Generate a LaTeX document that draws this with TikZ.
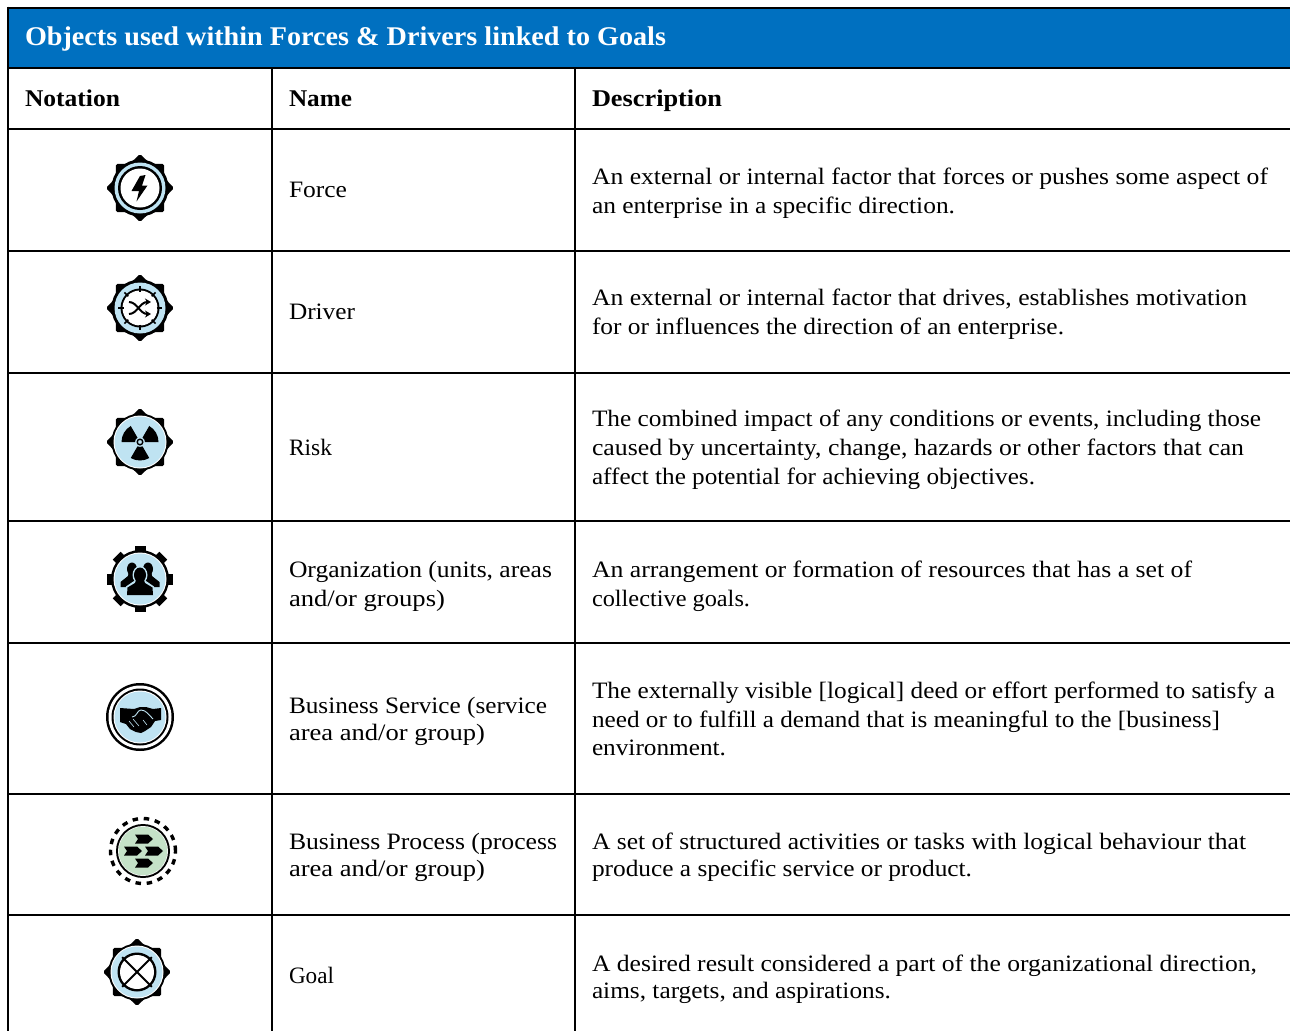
\documentclass[tikz,border=0pt]{standalone}
\usepackage{fontspec}
\usepackage{graphicx}
\usetikzlibrary{arrows.meta}
\setmainfont{Liberation Serif}
\definecolor{hdrblue}{HTML}{0070C0}
\definecolor{iconblue}{HTML}{BFE3F2}
\definecolor{icongreen}{HTML}{C5E2C8}
\tikzset{
  rule/.style={line width=2pt,black},
  txt/.style={anchor=base west,inner sep=0pt,outer sep=0pt,font=\fontsize{23.5}{28}\selectfont},
  hd/.style={txt,font=\fontsize{24}{28}\selectfont\bfseries},
  ttl/.style={txt,text=white,font=\fontsize{27}{30}\selectfont\bfseries}
}
\newcommand{\fitline}[6][txt]{\node[#1] (#2) at (#3,#4) {\resizebox{#5pt}{\height}{#6}};}
\newcommand{\geartrig}{%
  \foreach \a in {0,45,...,315} {
    \fill[black] (\a-15:28pt) -- (\a-2:33pt) -- (\a+2:33pt) -- (\a+15:28pt) -- cycle;
  }
  \fill[black] (0,0) circle[radius=28.5pt];
}
\newcommand{\gearsq}{%
  \foreach \a in {0,45,...,315} {
    \fill[black,rotate=\a] (25pt,-5.5pt) rectangle (33pt,5.5pt);
  }
  \fill[black] (0,0) circle[radius=29pt];
}
\begin{document}
\begin{tikzpicture}[x=1pt,y=-1pt]
\useasboundingbox (0,0) rectangle (1290,1031);
\fill[white] (0,0) rectangle (1290,1031);
% header
\fill[hdrblue] (9,8) rectangle (1290,68);
\draw[rule] (8,7.5) -- (1290,7.5);
\foreach \yy in {68,129,251,373,521,643,794,915} \draw[rule] (8,\yy) -- (1290,\yy);
\draw[rule] (8,6.5) -- (8,1031);
\draw[rule] (272,68) -- (272,1031);
\draw[rule] (575,68) -- (575,1031);

\fitline[ttl]{title}{25}{45}{641}{Objects used within Forces \& Drivers linked to Goals}
\fitline[hd]{hnot}{25}{106}{95}{Notation}
\fitline[hd]{hname}{289}{106}{63}{Name}
\fitline[hd]{hdesc}{592}{106}{130}{Description}

\fitline{n1}{289}{197}{58}{Force}
\fitline{d1a}{592}{184}{676}{An external or internal factor that forces or pushes some aspect of}
\fitline{d1b}{592}{213}{363}{an enterprise in a specific direction.}
\fitline{n2}{289}{319}{66}{Driver}
\fitline{d2a}{592}{305}{655}{An external or internal factor that drives, establishes motivation}
\fitline{d2b}{592}{334}{472}{for or influences the direction of an enterprise.}
\fitline{n3}{289}{455}{43}{Risk}
\fitline{d3a}{592}{426}{669}{The combined impact of any conditions or events, including those}
\fitline{d3b}{592}{455}{652}{caused by uncertainty, change, hazards or other factors that can}
\fitline{d3c}{592}{484}{443}{affect the potential for achieving objectives.}
\fitline{n4a}{289}{577}{263}{Organization (units, areas}
\fitline{n4b}{289}{606}{156}{and/or groups)}
\fitline{d4a}{592}{577}{600}{An arrangement or formation of resources that has a set of}
\fitline{d4b}{592}{606}{158}{collective goals.}
\fitline{n5a}{289}{713}{258}{Business Service (service}
\fitline{n5b}{289}{740}{196}{area and/or group)}
\fitline{d5a}{592}{698}{683}{The externally visible [logical] deed or effort performed to satisfy a}
\fitline{d5b}{592}{727}{628}{need or to fulfill a demand that is meaningful to the [business]}
\fitline{d5c}{592}{755}{134}{environment.}
\fitline{n6a}{289}{849}{268}{Business Process (process}
\fitline{n6b}{289}{876}{196}{area and/or group)}
\fitline{d6a}{592}{849}{654}{A set of structured activities or tasks with logical behaviour that}
\fitline{d6b}{592}{876}{380}{produce a specific service or product.}
\fitline{n7}{289}{983}{45}{Goal}
\fitline{d7a}{592}{971}{665}{A desired result considered a part of the organizational direction,}
\fitline{d7b}{592}{998}{299}{aims, targets, and aspirations.}

% Force
\begin{scope}[shift={(140,188)}]
  \geartrig
  \fill[iconblue] (0,0) circle[radius=25.5pt];
  \fill[black] (0,0) circle[radius=22pt];
  \fill[white] (0,0) circle[radius=19.5pt];
  \fill[black] (0,-12) -- (5.5,-13) -- (2,-2.5) -- (7.5,-2.5) -- (-3.5,13.5) -- (-1,3) -- (-8.5,3) -- cycle;
\end{scope}
% Driver
\begin{scope}[shift={(140,308)}]
  \geartrig
  \fill[iconblue] (0,0) circle[radius=25.5pt];
  \fill[black] (0,0) circle[radius=19.5pt];
  \fill[white] (0,0) circle[radius=17.5pt];
  \foreach \a in {0,45,...,315} \draw[black,line width=1.7pt] (\a:16.5pt) -- (\a:22pt);
  \draw[black,line width=2pt,-{Stealth[length=6pt,width=7pt]}] (-11,-6) .. controls (-3,-6) and (0,6) .. (11,6);
  \draw[black,line width=2pt,-{Stealth[length=6pt,width=7pt]}] (-11,6) .. controls (-3,6) and (0,-6) .. (11,-6);
\end{scope}
% Risk
\begin{scope}[shift={(140,442)}]
  \geartrig
  \fill[white] (0,0) circle[radius=26.5pt];
  \fill[iconblue] (0,0) circle[radius=25.5pt];
  \foreach \a in {0,120,240}
    \fill[black] (\a:5pt) -- (\a:18.5pt) arc[start angle=\a,end angle=\a+60,radius=18.5pt] -- (\a+60:5pt) arc[start angle=\a+60,end angle=\a,radius=5pt] -- cycle;
  \draw[black,line width=1.4pt] (0,0) circle[radius=2.8pt];
\end{scope}
% Organization
\begin{scope}[shift={(140,579)}]
  \gearsq
  \fill[white] (0,0) circle[radius=26.5pt];
  \fill[iconblue] (0,0) circle[radius=25.5pt];
  \foreach \s in {-1,1} {
    \fill[black] (\s*8,-10) ellipse[x radius=5pt,y radius=6.5pt];
    \fill[black] (\s*4.5,-6) -- (\s*11.5,-6) -- (\s*12,-3) -- (\s*19.5,3) -- (\s*19.5,8) -- (\s*2,8) -- cycle;
  }
  \fill[iconblue] (0,-4) ellipse[x radius=7.5pt,y radius=9pt];
  \fill[iconblue] (-14.5,17) -- (-14,7.5) -- (-6,2) -- (6,2) -- (14,7.5) -- (14.5,17) -- cycle;
  \fill[black] (0,-4) ellipse[x radius=6pt,y radius=7.5pt];
  \fill[black] (-4,1) -- (4,1) -- (5,4) -- (12.5,8.5) -- (13,16) -- (-13,16) -- (-12.5,8.5) -- (-5,4) -- cycle;
\end{scope}
% Business Service
\begin{scope}[shift={(140,717)}]
  \fill[black] (0,0) circle[radius=34pt];
  \fill[white] (0,0) circle[radius=31.5pt];
  \fill[black] (0,0) circle[radius=28.5pt];
  \fill[white] (0,0) circle[radius=26.5pt];
  \fill[iconblue] (0,0) circle[radius=25.5pt];
  \fill[black] (-20,-9) -- (-6,-8) -- (0,-10) -- (6,-10) -- (13,-8) -- (21,-9) -- (21,3) -- (15,4) -- (11,10) -- (5,14) -- (1,16) -- (-4,15) -- (-10,12) -- (-14,7) -- (-20,5) -- cycle;
  \draw[iconblue,line width=.9pt] (-8,0) .. controls (-3,0) and (-3,-7) .. (1,-7) .. controls (6,-7) and (9,-2) .. (13,2);
  \draw[iconblue,line width=.6pt] (-11,4) -- (-6,10);
  \draw[iconblue,line width=.6pt] (-7,2) -- (-1,9);
  \draw[iconblue,line width=.6pt] (3,3) -- (7,8);
\end{scope}
% Business Process
\begin{scope}[shift={(143,851)}]
  \draw[black,line width=3.4pt,dash pattern=on 5.5pt off 5.7pt] (0,0) circle[radius=32.5pt];
  \fill[black] (0,0) circle[radius=27pt];
  \fill[white] (0,0) circle[radius=25pt];
  \fill[icongreen] (0,0) circle[radius=24.3pt];
  \foreach \dx/\dy in {-8/-16.5,-19/-4.5,2/-4.5,-8/7.5} {
    \fill[black] (\dx,\dy) -- (\dx+13,\dy) -- (\dx+18,\dy+4.5) -- (\dx+13,\dy+9) -- (\dx,\dy+9) -- (\dx+3,\dy+4.5) -- cycle;
  }
\end{scope}
% Goal
\begin{scope}[shift={(137,972)}]
  \geartrig
  \fill[white] (0,0) circle[radius=26.5pt];
  \fill[iconblue] (0,0) circle[radius=25.5pt];
  \fill[black] (0,0) circle[radius=19.5pt];
  \fill[white] (0,0) circle[radius=17pt];
  \foreach \a in {45,135} \draw[black,line width=2pt] (\a:21pt) -- (\a+180:21pt);
\end{scope}
\end{tikzpicture}
\end{document}
